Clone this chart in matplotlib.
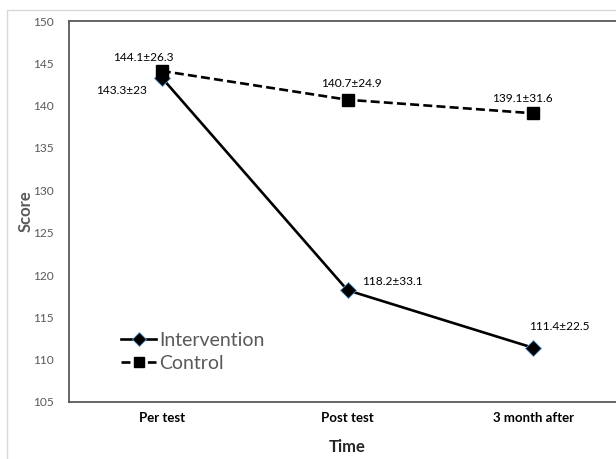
import matplotlib
matplotlib.use("Agg")
import matplotlib.pyplot as plt  # noqa: E402
from matplotlib.patches import Rectangle  # noqa: E402

plt.rcParams["font.family"] = ["Lato", "DejaVu Sans"]

# data
times = ["Per test", "Post test", "3 month after"]
intervention = [143.3, 118.2, 111.4]
control = [144.1, 140.7, 139.1]
int_labels = ["143.3\u00b123", "118.2\u00b133.1", "111.4\u00b122.5"]
ctl_labels = ["144.1\u00b126.3", "140.7\u00b124.9", "139.1\u00b131.6"]
yticks = [105, 110, 115, 120, 125, 130, 135, 140, 145, 150]

# label offsets in points (from each marker)
int_off = [(-29, -9), (32, 6), (19, 15)]
ctl_off = [(-13, 10), (3, 12), (-8, 11)]

GRAY = "#595959"

fig = plt.figure(figsize=(6.16, 4.59), dpi=100)
# outer chart-area border (cropped on right)
fig.patches.append(Rectangle((7 / 616, -0.01), 1.0, 1 - 10 / 459 + 0.01,
                             transform=fig.transFigure, fill=False,
                             edgecolor="#d9d9d9", lw=1.0))
ax = fig.add_axes([69 / 616, 1 - 402 / 459, 557 / 616, 381 / 459])

x = range(len(times))
ax.plot(x, intervention, color="black", lw=1.9, marker="D", ms=8,
        mfc="black", mec="#5b9bd5", mew=0.6, label="Intervention", zorder=3)
ax.plot(x, control, color="black", lw=1.9, ls=(0, (3.4, 1.6)), marker="s",
        ms=8, mfc="black", mec="black", label="Control", zorder=3)

for i, (v, t) in enumerate(zip(intervention, int_labels)):
    ax.annotate(t, (i, v), xytext=int_off[i], textcoords="offset points",
                ha="center", va="center", fontsize=8.6, color="black")
for i, (v, t) in enumerate(zip(control, ctl_labels)):
    ax.annotate(t, (i, v), xytext=ctl_off[i], textcoords="offset points",
                ha="center", va="center", fontsize=8.6, color="black")

ax.set_xlim(-0.5, 2.5)
ax.set_ylim(105, 150)
ax.set_yticks(yticks)
ax.set_xticks(list(x))
ax.set_xticklabels(times, fontweight="bold", fontsize=9.5, color="black")
ax.tick_params(axis="y", length=0, pad=11, labelsize=8.6, labelcolor=GRAY)
ax.tick_params(axis="x", length=0, pad=7)

for s in ("left", "top", "bottom"):
    ax.spines[s].set_color(GRAY)
    ax.spines[s].set_linewidth(1.3)
ax.spines["right"].set_visible(False)

ax.set_xlabel("Time", fontweight="bold", fontsize=12, color="#262626")
ax.set_ylabel("Score", fontweight="bold", fontsize=12, color=GRAY)
ax.xaxis.set_label_coords(0.5, -0.098)
ax.yaxis.set_label_coords(-0.064, 0.5)

leg = ax.legend(loc="upper left", bbox_to_anchor=(0.08, 0.205), frameon=False,
                fontsize=14, handlelength=1.8, handletextpad=0.15,
                labelspacing=0.3, borderaxespad=0, markerscale=0.85)
for t in leg.get_texts():
    t.set_color(GRAY)

fig.savefig("out.png", dpi=100)
